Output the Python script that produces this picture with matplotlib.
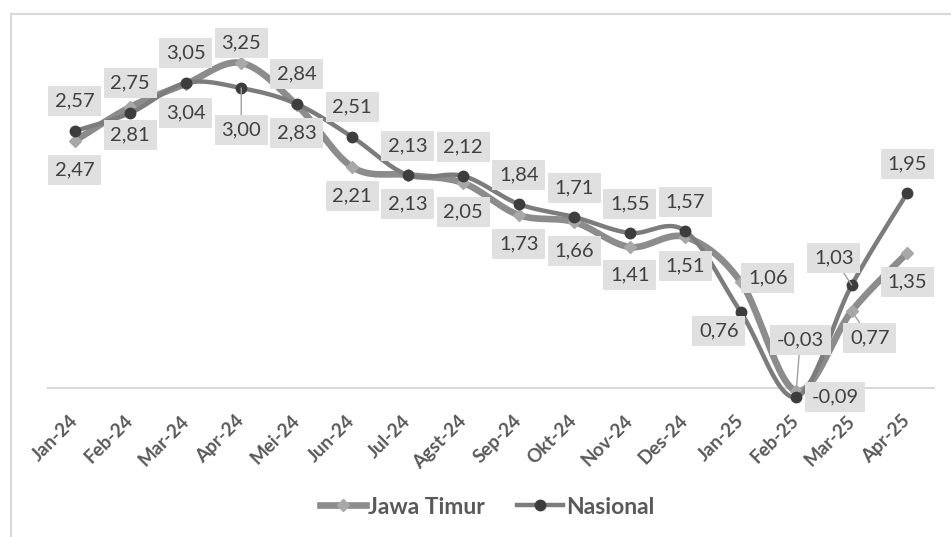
import numpy as np
import matplotlib
matplotlib.use("Agg")
import matplotlib.pyplot as plt
from matplotlib.patches import Rectangle
from matplotlib.lines import Line2D

# ---- data -------------------------------------------------------------
months = ["Jan-24", "Feb-24", "Mar-24", "Apr-24", "Mei-24", "Jun-24", "Jul-24",
          "Agst-24", "Sep-24", "Okt-24", "Nov-24", "Des-24", "Jan-25", "Feb-25",
          "Mar-25", "Apr-25"]
jawa_timur = [2.47, 2.81, 3.04, 3.25, 2.83, 2.21, 2.13, 2.05, 1.73, 1.66, 1.41,
              1.51, 1.06, -0.03, 0.77, 1.35]
nasional = [2.57, 2.75, 3.05, 3.00, 2.84, 2.51, 2.13, 2.12, 1.84, 1.71, 1.55,
            1.57, 0.76, -0.09, 1.03, 1.95]

# label offsets in pixels (dx, dy up) and whether a leader line is drawn
nas_offsets = [(0, 30), (0, 30), (0, 30), (0, -42), (0, 30), (0, 30), (0, 29),
               (0, 29), (0, 29), (0, 29), (0, 29), (0, 29), (-22, -19), (39, 0),
               (-18, 27), (0, 29)]
nas_leader = {3, 14}
jt_offsets = [(0, -29), (0, -28), (0, -29), (0, 20), (0, -28), (0, -29), (0, -29),
              (0, -29), (0, -29), (0, -29), (0, -28), (0, -29), (27, 4), (4, 51),
              (18, -27), (0, -29)]
jt_leader = {13, 14}


def smooth(x, y, n=30):
    """Bezier smoothing through every point (Catmull-Rom style control points)."""
    x = np.asarray(x, float)
    y = np.asarray(y, float)
    P = np.column_stack([x, y])
    out = [P[0]]
    t = np.linspace(0, 1, n)[1:]
    for i in range(len(P) - 1):
        p0 = P[i - 1] if i > 0 else P[i]
        p1 = P[i]
        p2 = P[i + 1]
        p3 = P[i + 2] if i + 2 < len(P) else P[i + 1]
        c1 = p1 + (p2 - p0) / 6.0
        c2 = p2 - (p3 - p1) / 6.0
        seg = ((1 - t) ** 3)[:, None] * p1 + (3 * (1 - t) ** 2 * t)[:, None] * c1 \
            + (3 * (1 - t) * t ** 2)[:, None] * c2 + (t ** 3)[:, None] * p2
        out.extend(seg)
    out = np.array(out)
    return out[:, 0], out[:, 1]


W, H = 951, 537
fig = plt.figure(figsize=(W / 100, H / 100), dpi=100)
fig.patch.set_facecolor("white")

# outer chart frame
fig.patches.append(Rectangle((10.5 / W, -0.1), 1.2, (H - 13.5) / H + 0.1,
                             transform=fig.transFigure, fill=False,
                             edgecolor="#d9d9d9", lw=1.5, zorder=0))

ax_left, ax_right = 47, 935
ax_top, ax_bot = 38, 400
ax = fig.add_axes([ax_left / W, (H - ax_bot) / H, (ax_right - ax_left) / W,
                   (ax_bot - ax_top) / H])
ax.set_xlim(-0.5, len(months) - 0.5)
ax.set_ylim(-0.12, 3.5)
for s in ax.spines.values():
    s.set_visible(False)
ax.set_yticks([])
ax.axhline(0, color="#d9d9d9", lw=1.5, zorder=1)

x = np.arange(len(months))

jt_col = "#8c8c8c"
nas_col = "#7c7c7c"

sx, sy = smooth(x, jawa_timur)
ax.plot(sx, sy, color=jt_col, lw=4.8, solid_capstyle="round", zorder=3,
        clip_on=False)
ax.plot(x, jawa_timur, ls="none", marker="D", ms=6, color="#a8a8a8",
        mec="#a8a8a8", zorder=4, clip_on=False)

sx, sy = smooth(x, nasional)
ax.plot(sx, sy, color=nas_col, lw=3.2, solid_capstyle="round", zorder=5,
        clip_on=False)
ax.plot(x, nasional, ls="none", marker="o", ms=7.5, color="#3d3d3d",
        mec="#3d3d3d", zorder=6, clip_on=False)

# data labels
def fmt(v):
    return f"{v:.2f}".replace(".", ",")


box = dict(boxstyle="square,pad=0.33", fc="#e0e0e0", ec="none")
for vals, offs, leaders in ((jawa_timur, jt_offsets, jt_leader),
                            (nasional, nas_offsets, nas_leader)):
    for i, v in enumerate(vals):
        dx, dy = offs[i]
        ap = None
        if i in leaders:
            ap = dict(arrowstyle="-", color="#a0a0a0", lw=1.0, shrinkA=0,
                      shrinkB=0)
        ax.annotate(fmt(v), (x[i], v), xytext=(dx, dy),
                    textcoords="offset pixels", ha="center", va="center",
                    fontsize=14.5, family="Lato", color="#404040", bbox=box,
                    arrowprops=ap, zorder=8, annotation_clip=False)

# category labels
ax.set_xticks(x)
ax.set_xticklabels(months, rotation=45, ha="right", va="center",
                   rotation_mode="anchor", fontsize=13.5, fontweight="bold",
                   family="Lato", color="#595959")
ax.tick_params(axis="x", length=0, pad=13)

# legend
handles = [
    Line2D([], [], color=jt_col, lw=4.8, marker="D", ms=6, mfc="#a8a8a8",
           mec="#a8a8a8"),
    Line2D([], [], color=nas_col, lw=3.2, marker="o", ms=7.5, mfc="#3d3d3d",
           mec="#3d3d3d"),
]
leg = fig.legend(handles, ["Jawa Timur", "Nasional"], loc="center",
                 bbox_to_anchor=(487 / W, (H - 507) / H), ncol=2, frameon=False,
                 handlelength=2.0, handletextpad=0.12, columnspacing=1.4,
                 prop=dict(family="Lato", weight="bold", size=16.5))
for t in leg.get_texts():
    t.set_color("#595959")

fig.savefig("out.png", dpi=100)
